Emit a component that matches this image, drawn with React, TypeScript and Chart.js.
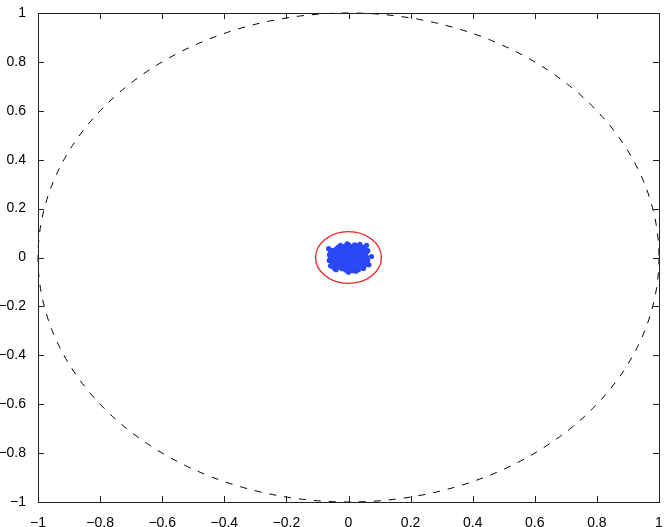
import React, { useEffect, useRef } from "react";
import { Chart, registerables } from "chart.js";

Chart.register(...registerables);

const xTicks = [-1, -0.8, -0.6, -0.4, -0.2, 0, 0.2, 0.4, 0.6, 0.8, 1];
const yTicks = [-1, -0.8, -0.6, -0.4, -0.2, 0, 0.2, 0.4, 0.6, 0.8, 1];

const unitCircleRadius = 1;
const redCircleRadius = 0.106;

const sampleX = [
  0.0, 0.01, -0.01, 0.005, -0.006, 0.02, -0.02, 0.018, -0.018, 0.03, -0.03, 0.002, -0.004, 0.025, -0.026, 0.028,
  -0.024, 0.038, -0.036, 0.04, -0.04, 0.012, -0.012, 0.01, -0.014, 0.034, -0.032, 0.036, -0.03, 0.045, -0.046, 0.006,
  -0.002, 0.022, -0.022, 0.02, -0.024, 0.044, -0.044, 0.046, -0.042, 0.05, -0.052, 0.052, -0.05, 0.014, -0.01, 0.03,
  -0.034, 0.004, -0.02, 0.026, 0.042, -0.04, 0.04, -0.038, 0.056, -0.056, 0.058, -0.054, 0.048, -0.06, -0.062, 0.062,
  0.058, 0.074, -0.058, -0.048, 0.05, 0.032, -0.008, 0.0, 0.02, -0.026, 0.066, -0.064, -0.058, 0.014, -0.04, 0.008,
  -0.015, 0.015, 0.0, 0.0, 0.008, -0.008, 0.025, -0.025, 0.033, -0.033, 0.034, -0.034, 0.016, -0.016, 0.016, -0.016,
  0.044, -0.044, 0.028, -0.028, 0.006, -0.006, 0.052, -0.05, 0.054, -0.052, 0.04, -0.016, 0.01, 0.058, -0.058, 0.0,
  0.048, -0.061, 0.036, -0.004, 0.024, -0.044, 0.062, 0.012,
  0.005, -0.005, 0.012, -0.012, 0.022, -0.022, 0.008, -0.008, 0.03, -0.03, 0.038, -0.038, 0.018, -0.018, 0.004, -0.004,
  0.026, -0.026, 0.042, -0.042, 0.012, -0.012, 0.034, -0.034, 0.048, -0.048, 0.002, -0.002, 0.02, -0.02, 0.03, -0.03
];
const sampleY = [
  0.0, 0.005, 0.004, -0.01, -0.008, 0.01, 0.012, -0.012, -0.014, 0.002, -0.002, 0.022, -0.024, 0.02, 0.022, -0.022,
  -0.02, 0.012, 0.01, -0.01, -0.012, 0.03, 0.032, -0.032, -0.03, 0.028, 0.03, -0.028, -0.03, 0.002, 0.004, 0.04,
  -0.04, 0.038, 0.04, -0.04, -0.038, 0.022, 0.02, -0.02, -0.024, 0.01, -0.006, -0.004, 0.012, 0.046, 0.048, 0.044,
  0.042, -0.046, -0.046, -0.044, 0.036, 0.034, -0.034, -0.036, 0.016, 0.018, -0.014, -0.018, 0.04, 0.008, -0.012, 0.028,
  0.05, 0.004, 0.03, -0.04, -0.038, -0.05, -0.052, 0.052, 0.052, 0.05, -0.03, 0.036, -0.034, -0.054, -0.05, 0.015,
  0.0, 0.0, 0.015, -0.015, -0.02, 0.02, -0.005, 0.005, 0.018, -0.018, -0.016, 0.016, 0.024, -0.024, -0.024, 0.024,
  0.01, -0.008, 0.032, -0.04, 0.032, -0.034, 0.03, 0.028, -0.028, -0.028, 0.046, 0.04, -0.042, 0.002, -0.002, -0.06,
  -0.045, 0.012, 0.054, 0.056, -0.056, -0.046, -0.012, 0.042,
  0.028, -0.028, 0.016, -0.018, 0.026, -0.03, -0.004, 0.006, 0.036, -0.036, 0.028, -0.026, 0.002, -0.002, 0.01, -0.012,
  0.01, -0.012, -0.002, 0.004, 0.04, -0.04, 0.006, -0.006, 0.024, -0.022, 0.034, -0.034, 0.044, -0.044, 0.016, -0.014
];

const points = sampleX.map((x, i) => ({ x, y: sampleY[i] }));

const fmt = (v: number) => {
  const r = Math.round(v * 10) / 10;
  if (r === 0) return "0";
  return r < 0 ? "\u2212" + String(Math.abs(r)) : String(r);
};

const framePlugin = {
  id: "frameAndCircles",
  beforeDatasetsDraw(chart: any) {
    const { ctx, scales } = chart;
    const xs = scales.x;
    const ys = scales.y;
    const cx = xs.getPixelForValue(0);
    const cy = ys.getPixelForValue(0);
    ctx.save();
    ctx.beginPath();
    ctx.setLineDash([7, 8]);
    ctx.strokeStyle = "#000";
    ctx.lineWidth = 1;
    ctx.ellipse(
      cx,
      cy,
      Math.abs(xs.getPixelForValue(unitCircleRadius) - cx),
      Math.abs(ys.getPixelForValue(unitCircleRadius) - cy),
      0,
      0,
      Math.PI * 2
    );
    ctx.stroke();
    ctx.beginPath();
    ctx.setLineDash([]);
    ctx.strokeStyle = "#f02020";
    ctx.lineWidth = 1.3;
    ctx.ellipse(
      cx,
      cy,
      Math.abs(xs.getPixelForValue(redCircleRadius) - cx),
      Math.abs(ys.getPixelForValue(redCircleRadius) - cy),
      0,
      0,
      Math.PI * 2
    );
    ctx.stroke();
    ctx.restore();
  },
  afterDraw(chart: any) {
    const { ctx, chartArea, scales } = chart;
    const { left, right, top, bottom } = chartArea;
    ctx.save();
    ctx.setLineDash([]);
    ctx.strokeStyle = "#222";
    ctx.lineWidth = 1;
    ctx.strokeRect(Math.round(left) + 0.5, Math.round(top) + 0.5, Math.round(right - left), Math.round(bottom - top));
    const tl = 6;
    ctx.beginPath();
    xTicks.forEach((v) => {
      const px = Math.round(scales.x.getPixelForValue(v)) + 0.5;
      ctx.moveTo(px, bottom);
      ctx.lineTo(px, bottom - tl);
      ctx.moveTo(px, top);
      ctx.lineTo(px, top + tl);
    });
    yTicks.forEach((v) => {
      const py = Math.round(scales.y.getPixelForValue(v)) + 0.5;
      ctx.moveTo(left, py);
      ctx.lineTo(left + tl, py);
      ctx.moveTo(right, py);
      ctx.lineTo(right - tl, py);
    });
    ctx.stroke();
    ctx.restore();
  },
};

export default function App() {
  const ref = useRef<HTMLCanvasElement | null>(null);
  useEffect(() => {
    document.body.style.margin = "0";
    const chart = new Chart(ref.current as HTMLCanvasElement, {
      type: "scatter",
      data: {
        datasets: [
          {
            data: points,
            backgroundColor: "#2a48f5",
            borderColor: "#2a48f5",
            pointRadius: 2.6,
            borderWidth: 0,
          },
        ],
      },
      options: {
        animation: false,
        responsive: false,
        maintainAspectRatio: false,
        layout: { padding: { left: 0, right: 9, top: 13, bottom: 0 } },
        plugins: { legend: { display: false }, tooltip: { enabled: false } },
        scales: {
          x: {
            type: "linear",
            min: -1,
            max: 1,
            afterBuildTicks: (s: any) => {
              s.ticks = xTicks.map((v) => ({ value: v }));
            },
            afterFit: (s: any) => {
              s.height = 25;
            },
            grid: { display: false },
            border: { display: false },
            ticks: {
              callback: (v: any) => fmt(Number(v)),
              color: "#000",
              padding: 5,
              maxRotation: 0,
              autoSkip: false,
              font: { family: "'Liberation Sans', Arial, sans-serif", size: 14 },
            },
          },
          y: {
            type: "linear",
            min: -1,
            max: 1,
            afterBuildTicks: (s: any) => {
              s.ticks = yTicks.map((v) => ({ value: v }));
            },
            afterFit: (s: any) => {
              s.width = 38;
            },
            grid: { display: false },
            border: { display: false },
            ticks: {
              callback: (v: any) => fmt(Number(v)),
              color: "#000",
              padding: 4,
              autoSkip: false,
              font: { family: "'Liberation Sans', Arial, sans-serif", size: 14 },
            },
          },
        },
      },
      plugins: [framePlugin],
    });
    return () => chart.destroy();
  }, []);
  return (
    <div style={{ position: "absolute", left: 0, top: 0, width: 668, height: 527, background: "#fff" }}>
      <canvas ref={ref} width={668} height={527} style={{ width: 668, height: 527 }} />
    </div>
  );
}
